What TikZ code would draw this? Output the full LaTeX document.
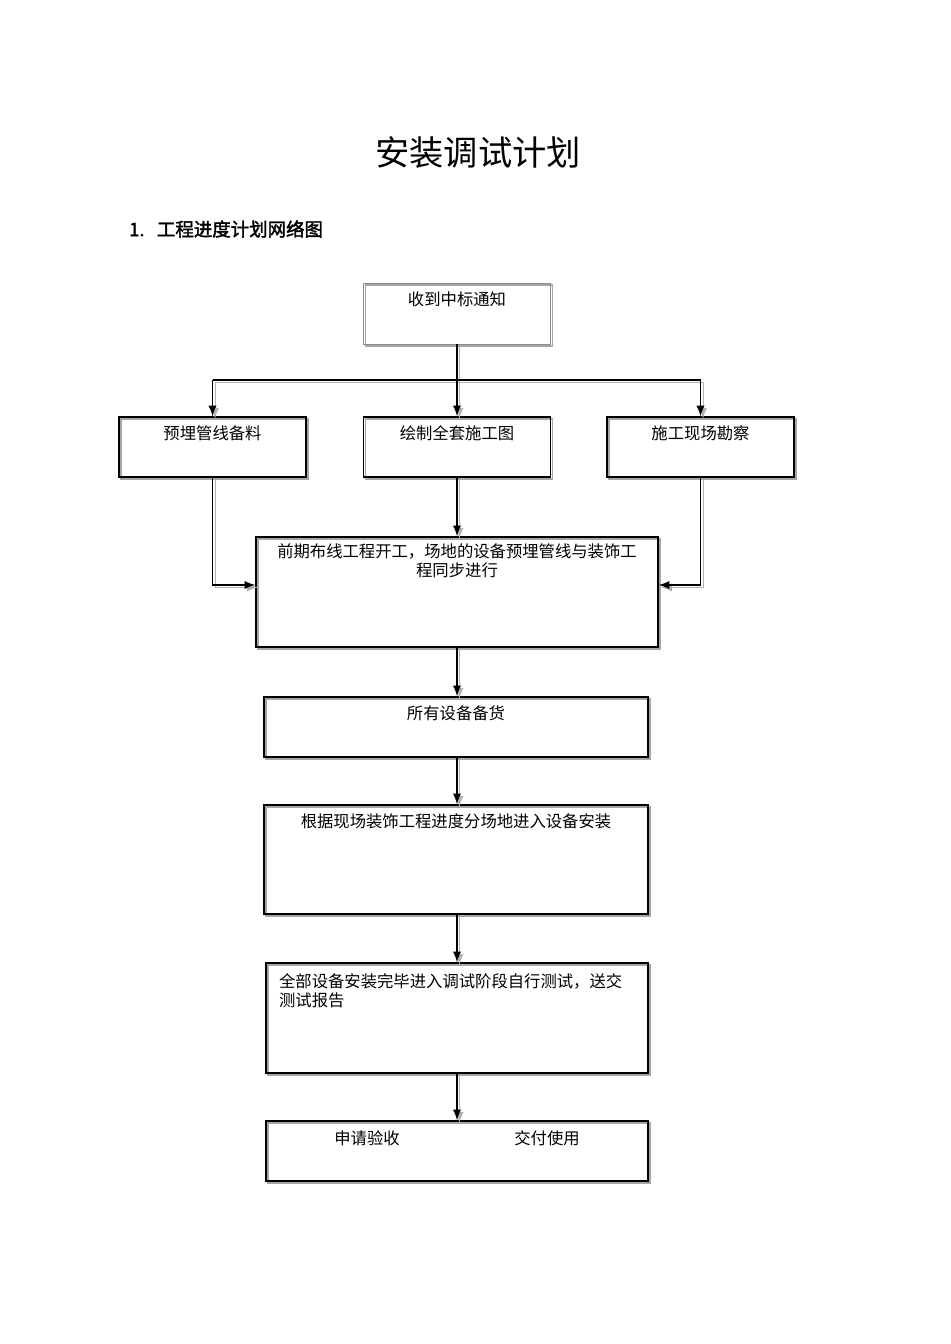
\documentclass[tikz,border=0pt]{standalone}
\usepackage{fontspec}
\setmainfont[AutoFakeBold=2]{Noto Sans CJK SC}
\usetikzlibrary{positioning,shadows}
\tikzset{
  box/.style={draw=black,line width=0.8pt,rectangle,inner sep=0pt,
    general shadow={draw=gray!70,fill=none,line width=0.8pt,shadow xshift=1.2pt,shadow yshift=-1.2pt}},
  thinbox/.style={box,draw=gray!90,line width=0.5pt},
  lbl/.style={inner sep=1pt,font=\fontsize{9.3}{11}\selectfont,align=center},
  conn/.style={-latex,line width=1.1pt,
    preaction={draw=gray!60,transform canvas={shift={(1.4pt,-1.4pt)}}}}
}
\begin{document}
\begin{tikzpicture}[x=0.02cm,y=-0.02cm]
\useasboundingbox (0,0) rectangle (950,1344);
% title
\node (title) at (478,153) {\fontsize{19.5}{22}\selectfont 安装调试计划};
\node[anchor=west] (head) at (123,229) {\fontsize{10.5}{12}\selectfont\bfseries 1.\ \ \ 工程进度计划网络图};

% boxes
\node[thinbox,minimum width=3.74cm,minimum height=1.22cm] (notice) at (457,313.5) {};
\node[box,minimum width=3.74cm,minimum height=1.2cm] (pipe) at (212.5,447) {};
\node[box,minimum width=3.74cm,minimum height=1.2cm] (drawing) at (457,447) {};
\node[box,minimum width=3.74cm,minimum height=1.2cm] (survey) at (700.5,447) {};
\node[box,minimum width=8.04cm,minimum height=2.2cm] (wiring) at (457,592) {};
\node[box,minimum width=7.68cm,minimum height=1.2cm] (stock) at (456,727) {};
\node[box,minimum width=7.68cm,minimum height=2.18cm] (install) at (456,859.5) {};
\node[box,minimum width=7.64cm,minimum height=2.2cm] (test) at (457,1018) {};
\node[box,minimum width=7.64cm,minimum height=1.2cm] (accept) at (457,1151) {};

% texts
\node[lbl,below=0.14cm of notice.north] {收到中标通知};
\node[lbl,below=0.14cm of pipe.north] {预埋管线备料};
\node[lbl,below=0.14cm of drawing.north] {绘制全套施工图};
\node[lbl,below=0.14cm of survey.north] {施工现场勘察};
\node[lbl,below=0.1cm of wiring.north] {前期布线工程开工，场地的设备预埋管线与装饰工\\程同步进行};
\node[lbl,below=0.14cm of stock.north] {所有设备备货};
\node[lbl,below=0.14cm of install.north] {根据现场装饰工程进度分场地进入设备安装};
\node[lbl,align=left,anchor=north west] at (277,971) {全部设备安装完毕进入调试阶段自行测试，送交\\测试报告};
\node[lbl] (apply) at (367,1138) {申请验收};
\node[lbl] (deliver) at (547,1138) {交付使用};

% connectors
\coordinate (bus) at (457,380);
\draw[line width=1.1pt,preaction={draw=gray!60,transform canvas={shift={(1.4pt,-1.4pt)}}}]
  (notice.south) -- (bus) (bus -| pipe) -- (bus -| survey);
\draw[conn] (bus -| pipe) -- (pipe.north);
\draw[conn] (bus) -- (drawing.north);
\draw[conn] (bus -| survey) -- (survey.north);
\draw[conn] (pipe.south) |- ([yshift=0.14cm]wiring.west);
\draw[conn] (survey.south) |- ([yshift=0.14cm]wiring.east);
\draw[conn] (drawing.south) -- (wiring.north -| drawing);
\draw[conn] (wiring.south -| drawing) -- (stock.north -| drawing);
\draw[conn] (stock.south -| drawing) -- (install.north -| drawing);
\draw[conn] (install.south -| drawing) -- (test.north -| drawing);
\draw[conn] (test.south -| drawing) -- (accept.north -| drawing);
\end{tikzpicture}
\end{document}
